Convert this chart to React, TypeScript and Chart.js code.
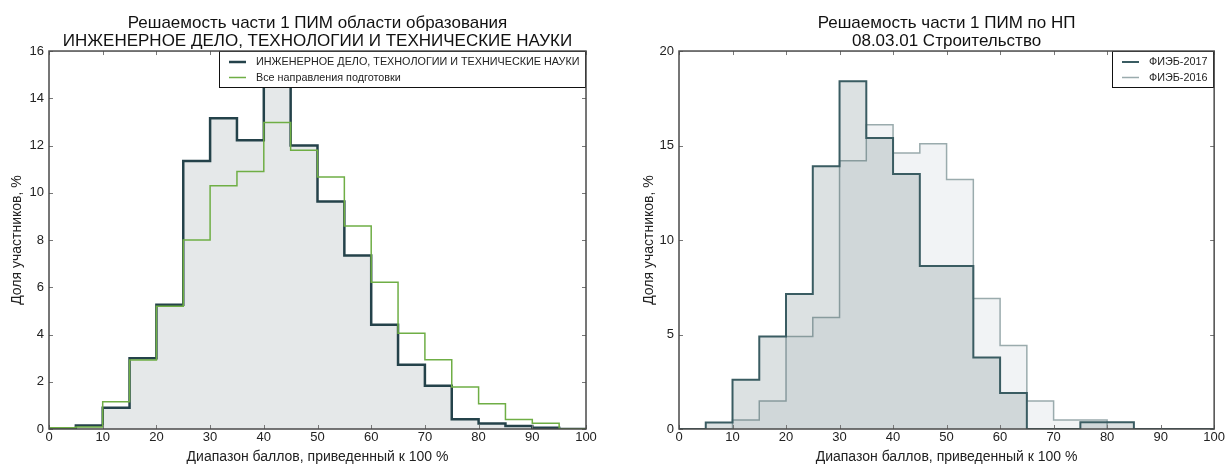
import React, { useEffect, useRef } from "react";
import { Chart, registerables } from "chart.js";

Chart.register(...registerables);

// ---------- DATA ----------
const binEdges = [0, 5, 10, 15, 20, 25, 30, 35, 40, 45, 50, 55, 60, 65, 70, 75, 80, 85, 90, 95, 100];

// Left chart
const leftTitle = ["Решаемость части 1 ПИМ области образования", "ИНЖЕНЕРНОЕ ДЕЛО, ТЕХНОЛОГИИ И ТЕХНИЧЕСКИЕ НАУКИ"];
const engLabel = "ИНЖЕНЕРНОЕ ДЕЛО, ТЕХНОЛОГИИ И ТЕХНИЧЕСКИЕ НАУКИ";
const allLabel = "Все направления подготовки";
const engValues = [0.03, 0.15, 0.9, 3.0, 5.26, 11.35, 13.15, 12.22, 15.2, 12.0, 9.63, 7.34, 4.41, 2.72, 1.83, 0.41, 0.23, 0.13, 0.05, 0];
const allValues = [0.05, 0.08, 1.15, 2.92, 5.2, 8.0, 10.3, 10.9, 12.98, 11.8, 10.67, 8.59, 6.21, 4.05, 2.93, 1.78, 1.07, 0.4, 0.24, 0];
const leftYMax = 16;
const leftYStep = 2;

// Right chart
const rightTitle = ["Решаемость части 1 ПИМ по НП", "08.03.01 Строительство"];
const label2017 = "ФИЭБ-2017";
const label2016 = "ФИЭБ-2016";
const fieb2017 = [0, 0.35, 2.6, 4.9, 7.15, 13.9, 18.4, 15.4, 13.5, 8.62, 8.62, 3.79, 1.9, 0, 0, 0.36, 0.36, 0, 0, 0];
const fieb2016 = [0, 0, 0.48, 1.48, 4.9, 5.9, 14.2, 16.1, 14.6, 15.1, 13.2, 6.9, 4.42, 1.48, 0.48, 0.48, 0, 0, 0, 0];
const rightYMax = 20;
const rightYStep = 5;

const xMin = 0;
const xMax = 100;
const xStep = 10;
const xTitle = "Диапазон баллов, приведенный к 100 %";
const yTitle = "Доля участников, %";

// ---------- HELPERS ----------
const FONT = '"Liberation Sans", Arial, Helvetica, sans-serif';

function toSteps(values: number[]) {
  return binEdges.map((x, i) => ({ x, y: values[Math.min(i, values.length - 1)] }));
}

type LegendItem = { label: string; color: string; width: number };

function makeDecor(items: LegendItem[], xTick: number, yTick: number) {
  return {
    id: "decor",
    afterDatasetsDraw(chart: any) {
      const { ctx, chartArea: a, scales } = chart;
      const xs = scales.x;
      const ys = scales.y;
      ctx.save();
      // inside ticks on all four sides
      ctx.strokeStyle = "#777";
      ctx.lineWidth = 1;
      for (let v = xs.min; v <= xs.max + 1e-9; v += xTick) {
        const px = Math.round(xs.getPixelForValue(v)) + 0.5;
        ctx.beginPath();
        ctx.moveTo(px, a.bottom);
        ctx.lineTo(px, a.bottom - 4);
        ctx.moveTo(px, a.top);
        ctx.lineTo(px, a.top + 4);
        ctx.stroke();
      }
      for (let v = ys.min; v <= ys.max + 1e-9; v += yTick) {
        const py = Math.round(ys.getPixelForValue(v)) + 0.5;
        ctx.beginPath();
        ctx.moveTo(a.left, py);
        ctx.lineTo(a.left + 4, py);
        ctx.moveTo(a.right, py);
        ctx.lineTo(a.right - 4, py);
        ctx.stroke();
      }
      // legend
      ctx.font = `10.8px ${FONT}`;
      const tw = Math.max(...items.map((it) => ctx.measureText(it.label).width));
      const w = Math.round(tw + 44);
      const h = 37;
      const x0 = Math.round(a.right - w);
      const y0 = Math.round(a.top);
      ctx.fillStyle = "#fff";
      ctx.fillRect(x0, y0, w, h);
      ctx.strokeStyle = "#111";
      ctx.lineWidth = 1;
      ctx.strokeRect(x0 + 0.5, y0 + 0.5, w - 1, h - 1);
      items.forEach((it, i) => {
        const y = y0 + 11 + i * 15.5;
        ctx.strokeStyle = it.color;
        ctx.lineWidth = it.width;
        ctx.beginPath();
        ctx.moveTo(x0 + 10, y);
        ctx.lineTo(x0 + 27, y);
        ctx.stroke();
        ctx.fillStyle = "#222";
        ctx.textBaseline = "middle";
        ctx.textAlign = "left";
        ctx.fillText(it.label, x0 + 37, y + 0.5);
      });
      ctx.restore();
    },
    afterDraw(chart: any) {
      const { ctx, chartArea: a } = chart;
      ctx.save();
      ctx.strokeStyle = "#4a4a4a";
      ctx.lineWidth = 1.5;
      ctx.strokeRect(a.left, a.top, a.right - a.left, a.bottom - a.top);
      ctx.restore();
    },
  };
}

function makeConfig(opts: {
  datasets: any[];
  title: string[];
  yMax: number;
  yStep: number;
  padLeft: number;
  yWidth: number;
  padRight: number;
  legend: LegendItem[];
}) {
  return {
    type: "line" as const,
    data: { datasets: opts.datasets },
    options: {
      responsive: false,
      animation: false as const,
      devicePixelRatio: 1,
      layout: { padding: { left: opts.padLeft, right: opts.padRight, top: 0, bottom: 0 } },
      elements: { point: { radius: 0, hoverRadius: 0 } },
      plugins: {
        legend: { display: false },
        tooltip: { enabled: false },
        title: {
          display: true,
          fullSize: false,
          text: opts.title,
          color: "#111",
          font: { family: FONT, size: 17, weight: "normal" as const, lineHeight: 1.06 },
          padding: { top: 14, bottom: 1 },
        },
      },
      scales: {
        x: {
          type: "linear" as const,
          min: xMin,
          max: xMax,
          grid: { display: false, drawTicks: false },
          border: { display: false },
          ticks: { stepSize: xStep, padding: 1, color: "#222", font: { family: FONT, size: 13 } },
          title: {
            display: true,
            text: xTitle,
            color: "#222",
            font: { family: FONT, size: 14 },
            padding: { top: 0, bottom: 0 },
          },
          afterFit: (s: any) => {
            s.height = 37;
          },
        },
        y: {
          type: "linear" as const,
          min: 0,
          max: opts.yMax,
          grid: { display: false, drawTicks: false },
          border: { display: false },
          ticks: { stepSize: opts.yStep, padding: 5, color: "#222", font: { family: FONT, size: 13 } },
          title: {
            display: true,
            text: yTitle,
            color: "#222",
            font: { family: FONT, size: 14 },
            padding: { top: 9, bottom: 0 },
          },
          afterFit: (s: any) => {
            s.width = opts.yWidth;
          },
        },
      },
    },
    plugins: [makeDecor(opts.legend, xStep, opts.yStep)],
  };
}

function HistChart({ config, width, height }: { config: any; width: number; height: number }) {
  const ref = useRef<HTMLCanvasElement | null>(null);
  useEffect(() => {
    if (!ref.current) return;
    const chart = new Chart(ref.current, config);
    return () => chart.destroy();
  }, [config]);
  return <canvas ref={ref} width={width} height={height} style={{ display: "block", width, height }} />;
}

const ENG_COLOR = "#24424a";
const ALL_COLOR = "#6fae45";
const C2017 = "#3a5c62";
const C2016 = "#9aabad";

const leftConfig = makeConfig({
  title: leftTitle,
  yMax: leftYMax,
  yStep: leftYStep,
  padLeft: 0,
  yWidth: 49,
  padRight: 27,
  legend: [
    { label: engLabel, color: ENG_COLOR, width: 2.5 },
    { label: allLabel, color: ALL_COLOR, width: 1.5 },
  ],
  datasets: [
    {
      label: engLabel,
      data: toSteps(engValues),
      stepped: "before",
      borderColor: ENG_COLOR,
      borderWidth: 2.5,
      backgroundColor: "#e5e8e9",
      fill: "origin",
      order: 2,
    },
    {
      label: allLabel,
      data: toSteps(allValues),
      stepped: "before",
      borderColor: ALL_COLOR,
      borderWidth: 1.5,
      fill: false,
      order: 1,
    },
  ],
});

const rightConfig = makeConfig({
  title: rightTitle,
  yMax: rightYMax,
  yStep: rightYStep,
  padLeft: 19,
  yWidth: 47,
  padRight: 11,
  legend: [
    { label: label2017, color: C2017, width: 2 },
    { label: label2016, color: C2016, width: 1.5 },
  ],
  datasets: [
    {
      label: label2017,
      data: toSteps(fieb2017),
      stepped: "before",
      borderColor: C2017,
      borderWidth: 2,
      backgroundColor: "rgba(45,80,85,0.17)",
      fill: "origin",
      order: 1,
    },
    {
      label: label2016,
      data: toSteps(fieb2016),
      stepped: "before",
      borderColor: C2016,
      borderWidth: 1.5,
      backgroundColor: "rgba(200,208,214,0.25)",
      fill: "origin",
      order: 2,
    },
  ],
});

export default function App() {
  return (
    <div
      style={{
        position: "fixed",
        left: 0,
        top: 0,
        width: 1226,
        height: 466,
        background: "#fff",
        display: "flex",
      }}
    >
      <HistChart config={leftConfig} width={613} height={466} />
      <HistChart config={rightConfig} width={613} height={466} />
    </div>
  );
}
